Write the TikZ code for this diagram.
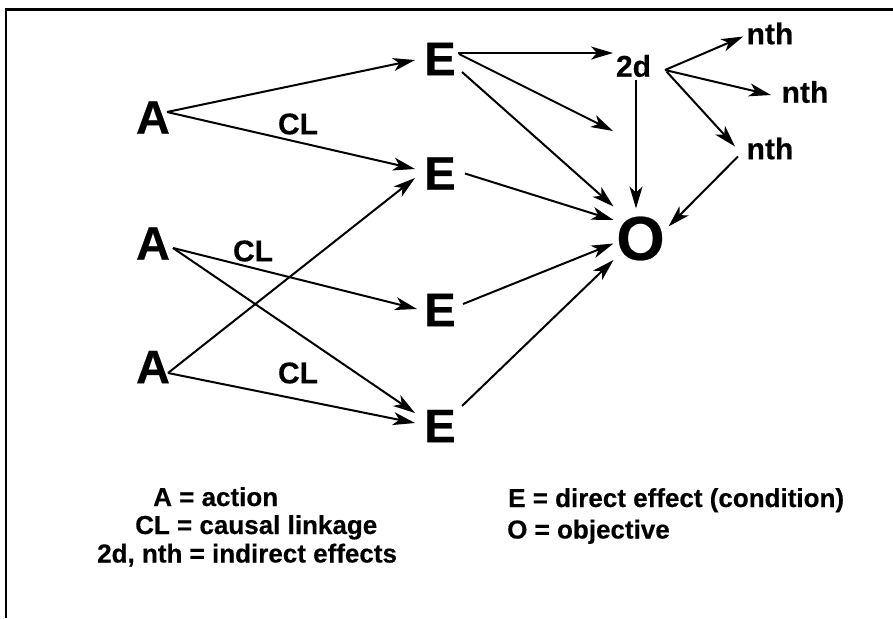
\documentclass[tikz,border=0pt]{standalone}
\usepackage{fontspec}
\setmainfont{Liberation Sans}[BoldFeatures={FakeBold=0.4}]
\usetikzlibrary{arrows.meta}
\begin{document}
\begin{tikzpicture}[x=1pt,y=-1pt,
  big/.style={font=\fontsize{47}{47}\selectfont\bfseries, inner sep=0pt},
  huge/.style={font=\fontsize{62}{62}\selectfont\bfseries, inner sep=0pt},
  mid/.style={font=\fontsize{30}{30}\selectfont\bfseries, inner sep=0pt},
  leg/.style={font=\fontsize{26}{26}\selectfont\bfseries, inner sep=0pt, anchor=base west},
  arr/.style={line width=2pt, -{Stealth[length=22pt,width=13pt,inset=6pt]}},
  frame/.style={line width=2.2pt}
]
\useasboundingbox (0,0) rectangle (893,618);
\draw[frame] (6.2,618) -- (6.2,9.5) -- (893,9.5);

\node[big] (A1) at (153,117.5) {A};
\node[big] (A2) at (153,243.5) {A};
\node[big] (A3) at (153,367) {A};
\node[big] (E1) at (440,59) {E};
\node[big] (E2) at (440,173.5) {E};
\node[big] (E3) at (440,310) {E};
\node[big] (E4) at (440,426) {E};
\node[huge] (O) at (640.5,238.5) {O};
\node[mid] (d2) at (633.5,66) {2d};
\node[mid] (n1) at (770,33.5) {nth};
\node[mid] (n2) at (805,92) {nth};
\node[mid] (n3) at (770,148.5) {nth};
\node[mid] (cl1) at (298,124) {CL};
\node[mid] (cl2) at (253,251) {CL};
\node[mid] (cl3) at (298,373) {CL};
\coordinate (free) at (613,131);

\draw[arr] ([shift={(14,-5.5)}]A1.center) -- ([shift={(-25,1)}]E1.center);
\draw[arr] ([shift={(14,-5.5)}]A1.center) -- ([shift={(-25,-4.5)}]E2.center);
\draw[arr] ([shift={(20,4.5)}]A2.center) -- ([shift={(-23,-1)}]E3.center);
\draw[arr] ([shift={(20,4.5)}]A2.center) -- ([shift={(-25,-13)}]E4.center);
\draw[arr] ([shift={(15,6)}]A3.center) -- ([shift={(-25,4.5)}]E2.center);
\draw[arr] ([shift={(15,6)}]A3.center) -- ([shift={(-25,-3)}]E4.center);

\draw[arr] ([shift={(18,-6)}]E1.center) -- ([shift={(-20.5,-13)}]d2.center);
\draw[arr] ([shift={(19,-5)}]E1.center) -- (free);
\draw[arr] ([shift={(22,13)}]E1.center) -- ([shift={(-27,-32)}]O.center);
\draw[arr] ([shift={(25,0)}]E2.center) -- ([shift={(-27,-18.5)}]O.center);
\draw[arr] ([shift={(23,-6)}]E3.center) -- ([shift={(-27,5)}]O.center);
\draw[arr] ([shift={(22,-20)}]E4.center) -- ([shift={(-27,21.5)}]O.center);

\draw[arr] ([shift={(2.5,14)}]d2.center) -- ([shift={(-4.5,-30)}]O.center);
\draw[arr] ([shift={(31.5,4)}]d2.center) -- ([shift={(-26.7,3)}]n1.center);
\draw[arr] ([shift={(31.5,4)}]d2.center) -- ([shift={(-34,3)}]n2.center);
\draw[arr] ([shift={(33,5.5)}]d2.center) -- ([shift={(-35,-2)}]n3.center);
\draw[arr] ([shift={(-32,8)}]n3.center) -- ([shift={(28,-12)}]O.center);

\node[leg] (l1) at (153,506) {A = action};
\node[leg] (l2) at (135,534) {CL = causal linkage};
\node[leg] (l3) at (97,562.5) {2d, nth = indirect effects};
\node[leg] (l4) at (508,507) {E = direct effect (condition)};
\node[leg] (l5) at (507,538.5) {O = objective};
\end{tikzpicture}
\end{document}
